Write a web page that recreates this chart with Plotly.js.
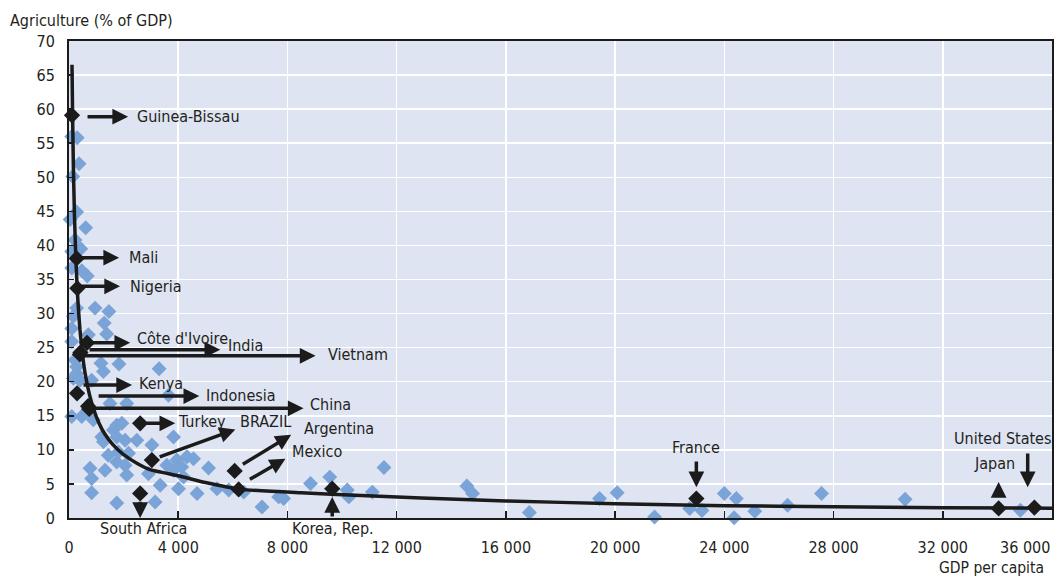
<!DOCTYPE html>
<html>
<head>
<meta charset="utf-8">
<script src="https://cdn.plot.ly/plotly-3.0.1.min.js"></script>
<style>
  html, body { margin: 0; padding: 0; background: #ffffff; }
  #chart { width: 1056px; height: 577px; }
</style>
</head>
<body>
<div id="chart"></div>
<script>
// Agriculture share of GDP against GDP per capita, one diamond per country
const gdpPerCapita = [
  100, 300, 370, 135, 280, 40, 610, 220, 430, 100, 670, 470, 100,
  955, 1460, 280, 160, 1290, 100, 710, 1380, 100,
  1170, 1830, 1260, 3300, 280, 220, 280, 400, 830, 160, 3645,
  100, 465, 890, 1200, 1260, 1500, 2115, 1750, 1935, 1625, 1750, 2055, 2485, 3035, 3830,
  1440, 1810, 2180, 770, 1320, 1750, 2055, 830, 830, 2115, 2910, 3340, 3155, 1750,
  3585, 3830, 3950, 4130, 4320, 4560, 4195, 4010, 4690, 5110, 5420, 5850, 6400,
  7070, 7680, 7860, 8845, 9550, 10190, 10250, 11110, 11535,
  14570, 14780, 16860, 19430, 20075, 21445, 22730, 23180, 24000, 24440, 24360,
  25115, 26315, 27560, 30620, 34840
];
const agriShare = [
  56.0, 55.8, 52.0, 50.1, 44.9, 43.8, 42.6, 40.8, 39.5, 39.1, 35.5, 36.3, 36.7,
  30.8, 30.3, 30.8, 29.6, 28.6, 27.8, 26.9, 27.0, 25.9,
  22.7, 22.6, 21.5, 21.9, 22.2, 23.2, 21.2, 20.2, 20.2, 20.5, 18.0,
  14.9, 14.9, 14.4, 11.9, 11.2, 16.8, 16.8, 13.6, 13.9, 12.9, 11.9, 11.4, 11.4, 10.7, 11.9,
  9.2, 9.7, 9.5, 7.3, 7.0, 8.2, 7.75, 5.8, 3.7, 6.3, 6.5, 4.8, 2.35, 2.2,
  7.75, 7.0, 8.5, 7.5, 9.0, 8.7, 6.0, 4.3, 3.6, 7.35, 4.3, 4.1, 3.8,
  1.6, 3.1, 2.85, 5.05, 6.0, 4.1, 3.1, 3.8, 7.4,
  4.7, 3.6, 0.8, 2.85, 3.7, 0.15, 1.4, 1.1, 3.6, 2.85, 0.05,
  1.0, 1.87, 3.6, 2.75, 1.13
];

// Countries picked out in black
const hlNames = ["Guinea-Bissau", "Mali", "Nigeria", "Côte d'Ivoire", "India", "Vietnam",
  "Kenya", "Indonesia", "China", "Turkey", "BRAZIL", "Argentina", "Mexico",
  "South Africa", "Korea, Rep.", "France", "Japan", "United States"];
const hlGdp = [110, 280, 305, 660, 420, 400, 295, 700, 740, 2606, 3035, 6067, 6214,
  2606, 9640, 22975, 34046, 35355];
const hlAgri = [59.1, 38.1, 33.7, 25.7, 24.3, 24.0, 18.3, 16.4, 16.0, 13.9, 8.5, 6.9, 4.2,
  3.6, 4.3, 2.85, 1.4, 1.53];

// Fitted trend curve
const trendGdp = [110, 130, 160, 200, 250, 300, 350, 400, 500, 600, 750, 900, 1100, 1300,
  1600, 2000, 2500, 3000, 4000, 5000, 6300, 8500, 10700, 12900, 16000, 20000, 24000,
  28000, 32000, 36000];
const trendAgri = [66.5, 59.6, 51.7, 44.4, 38.2, 33.7, 30.4, 27.7, 23.8, 21.0, 18.1, 16.0,
  13.9, 12.4, 10.8, 9.3, 8.0, 7.05, 6.2, 5.2, 4.2, 3.7, 3.3, 2.95, 2.5, 2.1, 1.8,
  1.65, 1.52, 1.42];

// Axis ticks
const xTickVals = [0, 4000, 8000, 12000, 16000, 20000, 24000, 28000, 32000, 36000];
const xTickText = ["0", "4 000", "8 000", "12 000", "16 000", "20 000", "24 000", "28 000", "32 000", ""];
const yTickVals = [0, 5, 10, 15, 20, 25, 30, 35, 40, 45, 50, 55, 60, 65, 70];

const FONT = "DejaVu Sans Condensed, Liberation Sans Narrow, sans-serif";
const FS = 16;
const INK = "#231f20";

// Arrow and label placement for each highlighted country
// arrow: [tailX, tailY, headX, headY]; label: [x, y, xanchor, yref]
const callouts = {
  "Guinea-Bissau": { arrow: [624, 58.9, 2165, 58.9], label: [2420, 58.9, "left"] },
  "Mali":          { arrow: [404, 38.2, 1835, 38.2], label: [2130, 38.2, "left"] },
  "Nigeria":       { arrow: [404, 34.0, 1870, 34.0], label: [2165, 34.0, "left"] },
  "Côte d'Ivoire": { arrow: [697, 25.7, 2240, 25.7], label: [2420, 26.4, "left"] },
  "India":         { arrow: [697, 24.7, 5540, 24.7], label: [5760, 25.3, "left"] },
  "Vietnam":       { arrow: [514, 23.8, 9030, 23.8], label: [9430, 24.0, "left"] },
  "Kenya":         { arrow: [477, 19.5, 2310, 19.5], label: [2500, 19.8, "left"] },
  "Indonesia":     { arrow: [1030, 17.9, 4770, 17.9], label: [4955, 18.0, "left"] },
  "China":         { arrow: [880, 16.1, 8590, 16.1], label: [8770, 16.6, "left"] },
  "Turkey":        { arrow: [2790, 13.9, 3890, 13.9], label: [3930, 14.2, "left"] },
  "BRAZIL":        { arrow: [3265, 8.9, 6092, 13.0], label: [6190, 14.1, "left"] },
  "Argentina":     { arrow: [6312, 7.75, 8136, 12.2], label: [8540, 13.2, "left"] },
  "Mexico":        { arrow: [6570, 5.55, 7927, 8.7], label: [8110, 9.8, "left"] },
  "South Africa":  { arrow: [2606, 2.6, 2606, 0.0], label: [2727, -0.021, "center", "paper"] },
  "Korea, Rep.":   { arrow: [9640, 0.0, 9640, 3.1], label: [9670, -0.021, "center", "paper"] },
  "France":        { arrow: [22975, 8.5, 22975, 4.5], label: [22975, 10.4, "center"] },
  "Japan":         { arrow: [34046, 3.1, 34046, 5.3], label: [33910, 8.0, "center"] },
  "United States": { arrow: [35110, 9.7, 35110, 4.5], label: [34170, 11.6, "center"] }
};

const annotations = [];
hlNames.forEach(name => {
  const c = callouts[name];
  const a = c.arrow;
  annotations.push({
    x: a[2], y: a[3], ax: a[0], ay: a[1],
    xref: "x", yref: "y", axref: "x", ayref: "y",
    text: "", showarrow: true,
    arrowhead: 2, arrowsize: 0.9, arrowwidth: 3.5, arrowcolor: "#1b1b1b", standoff: 0
  });
  const l = c.label;
  annotations.push({
    x: l[0], y: l[1], xref: "x", yref: l[3] || "y",
    text: name, showarrow: false,
    xanchor: l[2], yanchor: "middle",
    font: { family: FONT, size: FS, color: INK }
  });
});

// Axis captions and the last x tick label, which sits flush with the frame
annotations.push({
  xref: "paper", yref: "paper", x: -0.062, y: 1.044,
  xanchor: "left", yanchor: "middle", showarrow: false,
  text: "Agriculture (% of GDP)", font: { family: FONT, size: FS, color: INK }
});
annotations.push({
  xref: "paper", yref: "paper", x: 0.994, y: -0.1045,
  xanchor: "right", yanchor: "middle", showarrow: false,
  text: "GDP per capita", font: { family: FONT, size: 15.5, color: INK }
});
annotations.push({
  xref: "paper", yref: "paper", x: 1.0, y: -0.061,
  xanchor: "right", yanchor: "middle", showarrow: false,
  text: "36 000", font: { family: FONT, size: FS, color: INK }
});

const traces = [
  {
    type: "scatter", mode: "markers",
    x: gdpPerCapita, y: agriShare,
    marker: { symbol: "diamond", size: 11.5, color: "#7aa3d7", line: { width: 0 } },
    cliponaxis: false, hoverinfo: "x+y"
  },
  {
    type: "scatter", mode: "lines",
    x: trendGdp, y: trendAgri,
    line: { color: "#1b1b1b", width: 3.5, shape: "spline", smoothing: 0.4 },
    hoverinfo: "skip"
  },
  {
    type: "scatter", mode: "markers",
    x: hlGdp, y: hlAgri, text: hlNames,
    marker: { symbol: "diamond", size: 12.5, color: "#1b1b1b", line: { width: 0 } },
    cliponaxis: false, hoverinfo: "text+x+y"
  }
];

const layout = {
  width: 1056, height: 577,
  margin: { l: 69, r: 4, t: 41, b: 59 },
  paper_bgcolor: "#ffffff",
  plot_bgcolor: "#dfe4f2",
  showlegend: false,
  font: { family: FONT, size: FS, color: INK },
  xaxis: {
    range: [0, 36000], tickvals: xTickVals, ticktext: xTickText,
    showgrid: true, gridcolor: "#ffffff", gridwidth: 1.5, zeroline: false,
    showline: true, mirror: true, linecolor: "#1b1b1b", linewidth: 2,
    ticks: "inside", ticklen: 7, tickwidth: 1.5, tickcolor: "#1b1b1b",
    ticklabelstandoff: 14,
    tickfont: { family: FONT, size: FS, color: INK }
  },
  yaxis: {
    range: [0, 70], tickvals: yTickVals,
    showgrid: true, gridcolor: "#ffffff", gridwidth: 1.5, zeroline: false,
    showline: true, mirror: true, linecolor: "#1b1b1b", linewidth: 2,
    ticks: "inside", ticklen: 5, tickwidth: 1.5, tickcolor: "#1b1b1b",
    ticklabelstandoff: 9,
    tickfont: { family: FONT, size: FS, color: INK }
  },
  annotations: annotations
};

Plotly.newPlot("chart", traces, layout, { displayModeBar: false, staticPlot: true });
</script>
</body>
</html>
